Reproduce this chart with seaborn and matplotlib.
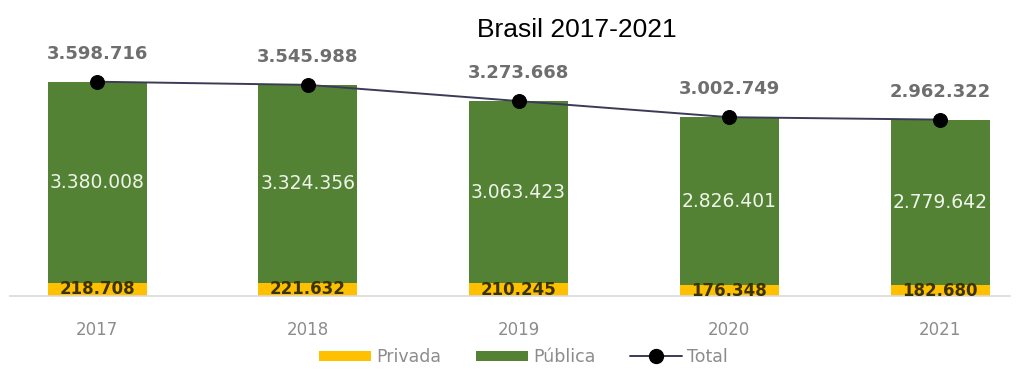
import numpy as np
import pandas as pd
import matplotlib
matplotlib.use("Agg")
import matplotlib.pyplot as plt
from matplotlib.patches import Patch
from matplotlib.lines import Line2D
import seaborn as sns

# Data
years = ["2017", "2018", "2019", "2020", "2021"]
privada = [218708, 221632, 210245, 176348, 182680]
publica = [3380008, 3324356, 3063423, 2826401, 2779642]
total = [3598716, 3545988, 3273668, 3002749, 2962322]

GREEN = "#548235"
YELLOW = "#FFC000"
LINE = "#3b3b58"


def fmt(v):
    return f"{v:,}".replace(",", ".")


sns.set_theme(style="white")
plt.rcParams["font.family"] = ["DejaVu Sans"]

df = pd.DataFrame({"ano": years, "privada": privada, "publica": publica, "total": total})

fig = plt.figure(figsize=(10.32, 3.70), dpi=100)
ax = fig.add_axes([10 / 1032, 0.2, 1000 / 1032, 0.692])

# Stacked bars: full height (Pública on top of Privada), then Privada at the base
sns.barplot(data=df, x="ano", y="total", color=GREEN, saturation=1, width=0.47,
            linewidth=0, ax=ax)
sns.barplot(data=df, x="ano", y="privada", color=YELLOW, saturation=1, width=0.47,
            linewidth=0, ax=ax)

# Total line with markers
xs = np.arange(len(years))
sns.lineplot(x=xs, y=total, color=LINE, linewidth=1.4, marker="o", markersize=10,
             markerfacecolor="black", markeredgecolor="black", ax=ax)

for i in range(len(years)):
    ax.annotate(fmt(total[i]), (xs[i], total[i]), xytext=(0, 20), textcoords="offset points",
                ha="center", va="center", fontsize=13, fontweight="bold", color="#6e6e6e")
    ax.text(xs[i], privada[i] + publica[i] / 2, fmt(publica[i]), ha="center", va="center",
            fontsize=13.5, color="#eef4e8")
    ax.text(xs[i], privada[i] / 2, fmt(privada[i]), ha="center", va="center",
            fontsize=12, fontweight="bold", color="#3a3300")

ax.set_xlim(-0.413, 4.332)
ax.set_ylim(0, 4.3e6)
ax.set_xlabel("")
ax.set_ylabel("")
ax.set_yticks([])
for s in ["top", "right", "left"]:
    ax.spines[s].set_visible(False)
ax.spines["bottom"].set_color("#d9d9d9")
ax.spines["bottom"].set_linewidth(1.2)
ax.tick_params(axis="x", length=0, pad=18, labelsize=12, labelcolor="#8c8c8c")

fig.text(577 / 1032, 1 - 37 / 370, "Brasil 2017-2021", ha="center", va="baseline",
         fontsize=19, color="black", family="Liberation Sans")

handles = [
    Patch(facecolor=YELLOW, edgecolor="none"),
    Patch(facecolor=GREEN, edgecolor="none"),
    Line2D([0], [0], color=LINE, linewidth=1.4, marker="o", markersize=10,
           markerfacecolor="black", markeredgecolor="black"),
]
leg = fig.legend(handles, ["Privada", "Pública", "Total"], loc="center",
                 bbox_to_anchor=(0.507, 1 - 357 / 370), ncol=3, frameon=False,
                 fontsize=12.5, handlelength=3.0, handleheight=0.55, handletextpad=0.3,
                 columnspacing=2.0)
for t in leg.get_texts():
    t.set_color("#8c8c8c")

fig.savefig("out.png", dpi=100)
